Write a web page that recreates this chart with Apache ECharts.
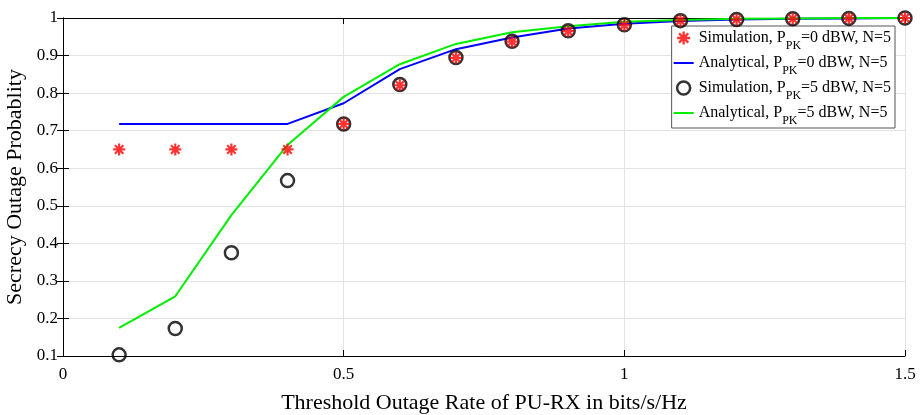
<!DOCTYPE html>
<html>
<head>
<meta charset="utf-8">
<script src="https://cdn.jsdelivr.net/npm/echarts@6/dist/echarts.min.js"></script>
<style>
html, body { margin: 0; padding: 0; background: #fff; }
#chart { width: 921px; height: 415px; }
</style>
</head>
<body>
<div id="chart"></div>
<script>
// threshold rates (bits/s/Hz)
var rates = [0.1, 0.2, 0.3, 0.4, 0.5, 0.6, 0.7, 0.8, 0.9, 1.0, 1.1, 1.2, 1.3, 1.4, 1.5];
var simP0 = [0.65, 0.65, 0.65, 0.65, 0.718, 0.821, 0.894, 0.937, 0.965, 0.981, 0.993, 0.996, 0.998, 0.999, 1.0];
var anaP0 = [0.718, 0.718, 0.718, 0.718, 0.773, 0.864, 0.917, 0.948, 0.972, 0.985, 0.992, 0.996, 0.998, 0.999, 1.0];
var simP5 = [0.103, 0.173, 0.375, 0.567, 0.718, 0.823, 0.895, 0.938, 0.966, 0.982, 0.993, 0.996, 0.998, 0.999, 1.0];
var anaP5 = [0.175, 0.259, 0.475, 0.662, 0.790, 0.877, 0.931, 0.962, 0.978, 0.990, 0.995, 0.998, 0.999, 1.0, 1.0];

var pairs = function(ys) {
	return rates.map(function(x, i) { return [x, ys[i]]; });
};

var FONT = '"Liberation Serif", "Times New Roman", serif';
/* matlab style asterisk */
var STAR = 'path://M-1.8,-10L1.8,-10L1.8,10L-1.8,10Z M-10,-1.8L10,-1.8L10,1.8L-10,1.8Z ' +
	'M-5.80,-8.34L8.34,5.80L5.80,8.34L-8.34,-5.80Z M8.34,-5.80L-5.80,8.34L-8.34,5.80L5.80,-8.34Z';
var LINE_ICON = 'path://M0,0H20V2H0Z';

var chart = echarts.init(document.getElementById('chart'));

var axisCommon = {
	axisLine: { show: true, lineStyle: { color: '#000', width: 1 } },
	axisTick: { show: true, inside: true, length: 6, lineStyle: { color: '#000' } }
};
var fmt = function(v) { return String(+v.toFixed(2)); };

var option = {
	animation: false,
	backgroundColor: '#fff',
	grid: { left: 63, right: 16, top: 18, bottom: 59, outerBoundsMode: 'none' },
	xAxis: [
		Object.assign({
			type: 'value', min: 0, max: 1.5, interval: 0.5,
			name: 'Threshold Outage Rate of PU-RX in bits/s/Hz',
			nameLocation: 'middle', nameGap: 36,
			nameTextStyle: { fontFamily: FONT, fontSize: 22, color: '#000' },
			axisLabel: { fontFamily: FONT, fontSize: 17, color: '#000', margin: 10, formatter: fmt },
			splitLine: { show: true, lineStyle: { color: '#e3e3e3', width: 1 } }
		}, axisCommon),
		Object.assign({
			type: 'value', min: 0, max: 1.5, interval: 0.5, position: 'top',
			axisLabel: { show: false }, splitLine: { show: false }
		}, axisCommon)
	],
	yAxis: [
		Object.assign({
			type: 'value', min: 0.1, max: 1, interval: 0.1,
			name: 'Secrecy Outage Probablity',
			nameLocation: 'middle', nameGap: 37,
			nameTextStyle: { fontFamily: FONT, fontSize: 22, color: '#000' },
			axisLabel: { fontFamily: FONT, fontSize: 17, color: '#000', margin: 5, formatter: fmt },
			splitLine: { show: true, lineStyle: { color: '#e3e3e3', width: 1 } }
		}, axisCommon),
		Object.assign({
			type: 'value', min: 0.1, max: 1, interval: 0.1, position: 'right',
			axisLabel: { show: false }, splitLine: { show: false }
		}, axisCommon)
	],
	legend: {
		orient: 'vertical',
		right: 26,
		top: 26,
		padding: [4, 4, 1, 2],
		itemGap: 3,
		itemWidth: 20,
		itemHeight: 13,
		backgroundColor: '#fff',
		borderColor: '#555',
		borderWidth: 1,
		borderRadius: 0,
		textStyle: {
			fontFamily: FONT, fontSize: 16, color: '#000',
			rich: {
				n: { fontFamily: FONT, fontSize: 16, color: '#000' },
				sub: { fontFamily: FONT, fontSize: 12, color: '#000', padding: [16, 0, 0, 0] }
			}
		},
		formatter: function(name) {
			var p = name.split('|');
			return '{n|' + p[0] + '}{sub|PK}{n|' + p[1] + '}';
		},
		data: [
			{ name: 'Simulation, P|=0 dBW, N=5', icon: STAR, itemStyle: { color: '#ff0000' } },
			{ name: 'Analytical, P|=0 dBW, N=5', icon: LINE_ICON, itemStyle: { color: '#0000ff' } },
			{ name: 'Simulation, P|=5 dBW, N=5', icon: 'circle',
				itemStyle: { color: 'transparent', borderColor: '#000', borderWidth: 2.5 } },
			{ name: 'Analytical, P|=5 dBW, N=5', icon: LINE_ICON, itemStyle: { color: '#00ee00' } }
		]
	},
	series: [
		{
			name: 'Analytical, P|=0 dBW, N=5',
			type: 'line',
			data: pairs(anaP0),
			showSymbol: false,
			lineStyle: { color: '#0000ff', width: 2 },
			itemStyle: { color: '#0000ff' },
			z: 2
		},
		{
			name: 'Analytical, P|=5 dBW, N=5',
			type: 'line',
			data: pairs(anaP5),
			showSymbol: false,
			lineStyle: { color: '#00ee00', width: 2 },
			itemStyle: { color: '#00ee00' },
			z: 3
		},
		{
			name: 'Simulation, P|=5 dBW, N=5',
			type: 'scatter',
			data: pairs(simP5),
			symbol: 'circle',
			symbolSize: 13,
			itemStyle: { color: 'transparent', borderColor: '#000', borderWidth: 2.5 },
			z: 4
		},
		{
			name: 'Simulation, P|=0 dBW, N=5',
			type: 'scatter',
			data: pairs(simP0),
			symbol: STAR,
			symbolSize: 12,
			itemStyle: { color: '#ff0000' },
			z: 5
		}
	]
};

chart.setOption(option);
</script>
</body>
</html>
